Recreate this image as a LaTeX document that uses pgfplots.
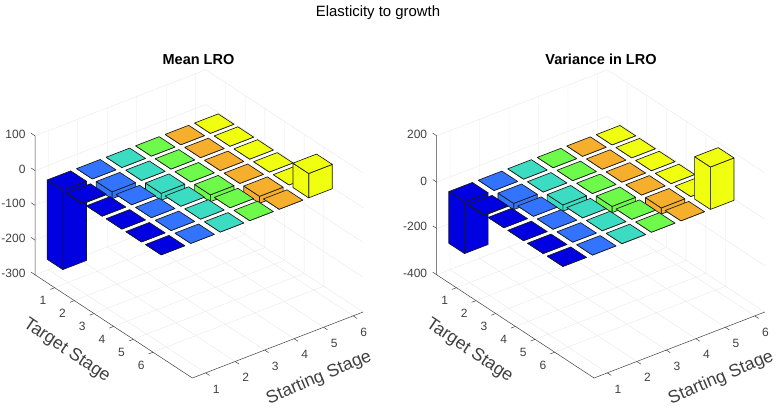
\documentclass[border=0pt]{standalone}
\usepackage{pgfplots}
\pgfplotsset{compat=1.18}
\usepackage{fontspec}
\setmainfont{Liberation Sans}
\definecolor{col1}{RGB}{0,0,225}
\definecolor{col2}{RGB}{50,115,255}
\definecolor{col3}{RGB}{60,220,195}
\definecolor{col4}{RGB}{110,250,75}
\definecolor{col5}{RGB}{245,175,45}
\definecolor{col6}{RGB}{240,255,15}
\definecolor{txt}{gray}{0.25}
\newcommand\onebar[3]{%
 \pgfmathsetmacro\xa{#1-0.1-0.4}\pgfmathsetmacro\xb{#1-0.1+0.4}%
 \pgfmathsetmacro\ya{#2+0.09-0.4}\pgfmathsetmacro\yb{#2+0.09+0.4}%
 \pgfmathsetmacro\zt{max(#3,0)}\pgfmathsetmacro\zb{min(#3,0)}%
 \addplot3[barface,fill=col#1] coordinates {(\xa,\yb,\zb)(\xb,\yb,\zb)(\xb,\yb,\zt)(\xa,\yb,\zt)(\xa,\yb,\zb)};
 \addplot3[barface,fill=col#1] coordinates {(\xa,\ya,\zb)(\xa,\yb,\zb)(\xa,\yb,\zt)(\xa,\ya,\zt)(\xa,\ya,\zb)};
 \addplot3[barface,fill=col#1] coordinates {(\xa,\ya,\zt)(\xb,\ya,\zt)(\xb,\yb,\zt)(\xa,\yb,\zt)(\xa,\ya,\zt)};
}
\newcommand\barrow[7]{\onebar{6}{#1}{#7}\onebar{5}{#1}{#6}\onebar{4}{#1}{#5}\onebar{3}{#1}{#4}\onebar{2}{#1}{#3}\onebar{1}{#1}{#2}}
% walls, floor grid, axis lines and ticks; #1 zmin, #2 zmax, #3 z tick list
\newcommand\boxdeco[3]{%
 \pgfplotsinvokeforeach{1,...,6}{%
  \draw[gridl] (axis cs:##1,8,#1)--(axis cs:##1,0,#1)--(axis cs:##1,0,#2);
  \draw[gridl] (axis cs:0.55,##1,#1)--(axis cs:6.34,##1,#1)--(axis cs:6.34,##1,#2);
  \draw[axl] (axis cs:##1,8,#1)--(axis cs:##1,8.2,#1);
  \draw[axl] (axis cs:0.55,##1,#1)--(axis cs:0.4,##1,#1);
 }
 \pgfplotsinvokeforeach{#3}{%
  \draw[gridl] (axis cs:0.55,0,##1)--(axis cs:6.34,0,##1)--(axis cs:6.34,8,##1);
  \draw[axl] (axis cs:0.55,0,##1)--(axis cs:0.55,-0.2,##1);
 }
 \draw[axl] (axis cs:0.55,0,#2)--(axis cs:0.55,0,#1)--(axis cs:0.55,8,#1)--(axis cs:6.34,8,#1);
}
\pgfplotsset{
 barface/.style={draw=black!90,line width=0.65pt,line join=round,mark=none,forget plot},
 elast/.style={
  clip=false,
  x={(29.5pt,11.4pt)},y={(19.67pt,-12.9pt)},
  xmin=0.55,xmax=6.34,ymin=0,ymax=8,
  xtick={1,...,6},ytick={1,...,6},
  axis line style={draw=none},
  major tick length=0pt,
  /pgf/number format/assume math mode=true,
  tick label style={font=\fontsize{12}{12}\selectfont,text=txt},
  xticklabel style={xshift=6pt,yshift=-7.5pt},
  yticklabel style={xshift=-6pt,yshift=-4.5pt},
  zticklabel style={xshift=-6pt},
  anchor=south west,
 },
}
\tikzset{gridl/.style={draw=black!9,line width=0.4pt},axl/.style={draw=black!75,line width=0.5pt}}
\begin{document}
\begin{tikzpicture}[x=1pt,y=1pt]
\path[use as bounding box] (0,0) rectangle (777,410);
\begin{axis}[elast,at={(35pt,32pt)},z={(0pt,0.3475pt)},zmin=-300,zmax=100,ztick={-300,-200,...,100}]
\boxdeco{-300}{100}{-300,-200,-100,0,100}
\barrow{1}{-228}{0}{0}{0}{0}{0}
\barrow{2}{-2}{-20}{0}{0}{0}{0}
\barrow{3}{0}{0}{-20}{0}{0}{0}
\barrow{4}{0}{0}{0}{-20}{0}{0}
\barrow{5}{0}{0}{0}{0}{-20}{0}
\barrow{6}{0}{0}{0}{0}{0}{70}
\end{axis}
\begin{axis}[elast,at={(436.7pt,32pt)},z={(0pt,0.23167pt)},zmin=-400,zmax=200,ztick={-400,-200,0,200}]
\boxdeco{-400}{200}{-400,-200,0,200}
\barrow{1}{-223}{0}{0}{0}{0}{0}
\barrow{2}{-3}{-27}{0}{0}{0}{0}
\barrow{3}{0}{0}{-27}{0}{0}{0}
\barrow{4}{0}{0}{0}{-27}{0}{0}
\barrow{5}{0}{0}{0}{0}{-27}{0}
\barrow{6}{0}{0}{0}{0}{0}{183}
\end{axis}
\node[font=\fontsize{14.9}{15}\selectfont] at (378,397) {Elasticity to growth};
\node[font=\fontsize{14.5}{15}\selectfont\bfseries] at (198.5,350.5) {Mean LRO};
\node[font=\fontsize{14.5}{15}\selectfont\bfseries] at (601,350.5) {Variance in LRO};
\node[font=\fontsize{17.7}{18}\selectfont,text=txt,rotate=-34] at (66.7,59.3) {Target Stage};
\node[font=\fontsize{17.7}{18}\selectfont,text=txt,rotate=23] at (319,32) {Starting Stage};
\node[font=\fontsize{17.7}{18}\selectfont,text=txt,rotate=-34] at (469.3,59.3) {Target Stage};
\node[font=\fontsize{17.7}{18}\selectfont,text=txt,rotate=23] at (721,32) {Starting Stage};
\end{tikzpicture}
\end{document}
